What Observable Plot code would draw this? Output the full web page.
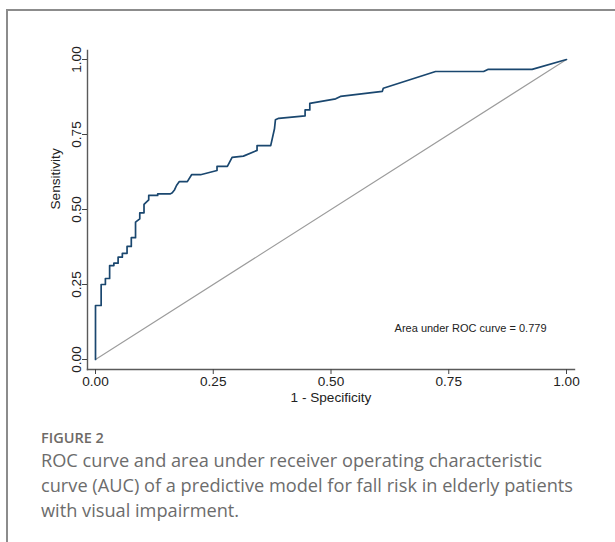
<!DOCTYPE html>
<html>
<head>
<meta charset="utf-8">
<script src="https://cdn.jsdelivr.net/npm/d3@7"></script>
<script src="https://cdn.jsdelivr.net/npm/@observablehq/plot@0.6"></script>
<style>
  html, body { margin: 0; padding: 0; background: #fff; width: 615px; height: 542px; overflow: hidden; }
  #card { position: absolute; left: 6px; top: 9px; width: 700px; height: 600px; border: 2px solid #8c8c8c; box-sizing: border-box; }
  #chart { position: absolute; left: 0; top: 0; }
  #cap { position: absolute; left: 41px; top: 427px; width: 570px; font-family: "Open Sans", sans-serif; white-space: nowrap; }
  #cap .fig { font-weight: 600; font-size: 14.5px; line-height: 22px; color: #6e6a66; }
  #cap .txt { font-size: 18.2px; line-height: 25px; color: #6c6c6c; margin-top: -1px; }
</style>
</head>
<body>
<div id="card"></div>
<div id="chart"></div>
<div id="cap">
  <div class="fig">FIGURE 2</div>
  <div class="txt">ROC curve and area under receiver operating characteristic<br>curve (AUC) of a predictive model for fall risk in elderly patients<br>with visual impairment.</div>
</div>
<script>
// ROC curve vertices (1 - specificity, sensitivity)
const fpr = [0, 0, 0.012, 0.012, 0.021, 0.021, 0.030, 0.030, 0.039, 0.039, 0.048, 0.048, 0.057, 0.057,
  0.067, 0.067, 0.076, 0.076, 0.085, 0.085, 0.094, 0.094, 0.103, 0.103, 0.113, 0.113, 0.132, 0.132,
  0.159, 0.163, 0.168, 0.172, 0.178, 0.195, 0.204, 0.223, 0.258, 0.258, 0.280, 0.290, 0.314, 0.343,
  0.343, 0.372, 0.380, 0.382, 0.389, 0.445, 0.445, 0.455, 0.455, 0.510, 0.520, 0.609, 0.611, 0.722,
  0.824, 0.833, 0.927, 1];
const tpr = [0, 0.18, 0.18, 0.25, 0.25, 0.27, 0.27, 0.313, 0.313, 0.321, 0.321, 0.341, 0.341, 0.354,
  0.354, 0.377, 0.377, 0.406, 0.406, 0.458, 0.469, 0.489, 0.489, 0.517, 0.532, 0.547, 0.547, 0.552,
  0.552, 0.556, 0.566, 0.580, 0.593, 0.593, 0.616, 0.616, 0.630, 0.644, 0.644, 0.674, 0.678, 0.697,
  0.713, 0.713, 0.769, 0.799, 0.804, 0.812, 0.832, 0.832, 0.854, 0.869, 0.877, 0.894, 0.904, 0.960,
  0.960, 0.967, 0.967, 1];
const diagonalX = [0, 1];
const diagonalY = [0, 1];
const xTicks = [0, 0.25, 0.5, 0.75, 1];
const yTicks = [0, 0.25, 0.5, 0.75, 1];
const xTitle = "1 - Specificity";
const yTitle = "Sensitivity";
const aucLabel = "Area under ROC curve = 0.779";
const aucPos = {x: 0.635, y: 0.103};

const roc = fpr.map((x, i) => ({x, y: tpr[i]}));
const diag = diagonalX.map((x, i) => ({x, y: diagonalY[i]}));
const fmt = d => d.toFixed(2);

const chart = Plot.plot({
  width: 615,
  height: 420,
  marginLeft: 87,
  marginRight: 41,
  marginTop: 50,
  marginBottom: 51,
  style: {fontFamily: "'Liberation Sans', Arial, sans-serif", fontSize: "13.6px", color: "#222", background: "transparent"},
  x: {domain: [0, 1], range: [95, 566]},
  y: {domain: [0, 1], range: [359, 59]},
  marks: [
    Plot.frame({anchor: "left", stroke: "#5a5a5a", strokeWidth: 1.4}),
    Plot.frame({anchor: "bottom", stroke: "#5a5a5a", strokeWidth: 1.4}),
    Plot.axisX({ticks: xTicks, tickSize: 5, tickPadding: 2, tickFormat: fmt, label: null, stroke: "#444", fontSize: 13.6}),
    Plot.axisY({ticks: yTicks, tickSize: 5, tickPadding: 2, tickRotate: -90, tickFormat: fmt, label: null, stroke: "#444", fontSize: 13.6}),
    Plot.line(diag, {x: "x", y: "y", stroke: "#9c9c9c", strokeWidth: 1.1}),
    Plot.line(roc, {x: "x", y: "y", stroke: "#1a476f", strokeWidth: 1.7}),
    Plot.text([xTitle], {x: 0.5, frameAnchor: "bottom", dy: 32, text: d => d, fontSize: 13.6}),
    Plot.text([yTitle], {y: 0.5, frameAnchor: "left", dx: -32, rotate: -90, text: d => d, fontSize: 13.6}),
    Plot.text([aucLabel], {x: aucPos.x, y: aucPos.y, text: d => d, textAnchor: "start", fontSize: 11})
  ]
});
document.getElementById("chart").appendChild(chart);
</script>
</body>
</html>
